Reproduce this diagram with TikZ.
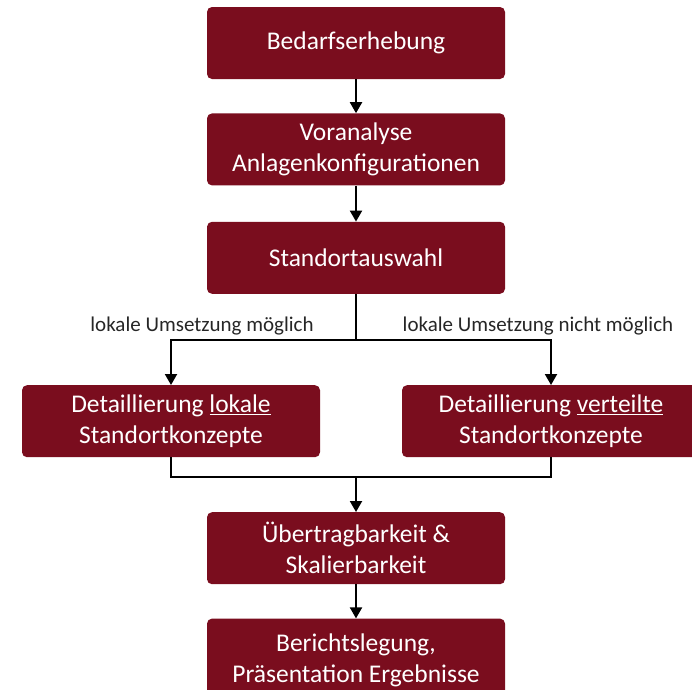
\documentclass[tikz,border=0pt]{standalone}
\usepackage{fontspec}
\setmainfont{Carlito}
\usetikzlibrary{positioning,arrows.meta}
\definecolor{boxred}{RGB}{122,13,30}

\begin{document}
\begin{tikzpicture}[x=1pt, y=1pt,
                    stepbox/.style={rectangle, rounded corners=5pt, fill=boxred, text=white, minimum width=298pt, minimum height=72pt, inner sep=0pt, align=center, font=\fontsize{25.5}{31}\selectfont},
                    lbl/.style={text=black!85, inner sep=0pt, font=\fontsize{21}{24}\selectfont},
                    arr/.style={line width=2pt, -{Triangle[width=12pt, length=11pt]}},
                    ln/.style={line width=2pt},]
    \useasboundingbox (0,0) rectangle (692,-689);
    % nodes
    \node[stepbox]      (bedarf)   at (356,-43)                               {Bedarfserhebung};
    \node[stepbox]      (voran)    [below=34pt of bedarf]                     {Voranalyse\\Anlagenkonfigurationen};
    \node[stepbox]      (standort) [below=36pt of voran]                      {Standortauswahl};
    \node[stepbox]      (lokal)    [below=91pt of standort, xshift=-185pt]    {Detaillierung \underline{lokale}\\Standortkonzepte};
    \node[stepbox]      (verteilt) [below=91pt of standort, xshift=195pt]     {Detaillierung \underline{verteilte}\\Standortkonzepte};
    \node[stepbox]      (skal)     [below=218pt of standort]                  {Übertragbarkeit \&\\Skalierbarkeit};
    \node[stepbox, minimum height=80pt, text depth=-4pt] (bericht)  [below=34pt of skal] {Berichtslegung,\\Präsentation Ergebnisse};
    % branch points
    \coordinate[below=46pt of standort] (split);
    \path (lokal.south -| skal.north) ++(0,-20) coordinate (join);
    % labels
    \node[lbl] (lbl1) at ([xshift=-154pt, yshift=14pt]split) {lokale Umsetzung möglich};
    \node[lbl] (lbl2) at ([xshift=182pt, yshift=14pt]split)  {lokale Umsetzung nicht möglich};
    % lines
    \draw[arr] (bedarf) -- (voran);
    \draw[arr] (voran) -- (standort);
    \draw[ln] (standort) -- (split);
    \draw[arr] (split) -| (lokal.north);
    \draw[arr] (split) -| (verteilt.north);
    \draw[ln] (lokal.south) |- (join) -| (verteilt.south);
    \draw[arr] (join) -- (skal);
    \draw[arr] (skal) -- (bericht);
\end{tikzpicture}
\end{document}
